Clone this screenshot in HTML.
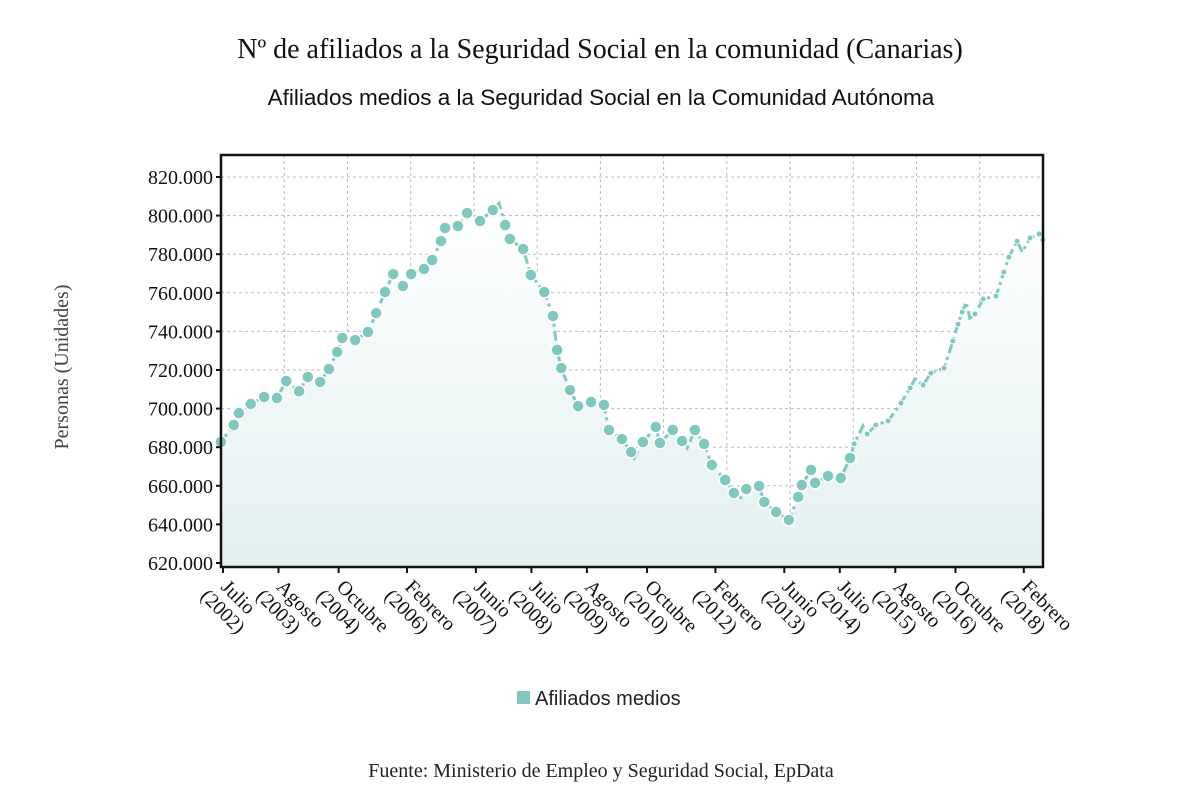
<!DOCTYPE html>
<html><head><meta charset="utf-8"><style>
html,body{margin:0;padding:0;background:#fff;width:1200px;height:808px;overflow:hidden}
svg{display:block}
</style></head><body>
<svg id="chart" width="1200" height="808" xmlns="http://www.w3.org/2000/svg">
<defs>
<linearGradient id="fillg" x1="0" y1="0" x2="0" y2="1">
<stop offset="0" stop-color="#ffffff" stop-opacity="1"/>
<stop offset="1" stop-color="#e3f0f0" stop-opacity="1"/>
</linearGradient>
</defs>
<text x="600" y="58" text-anchor="middle" font-family="Liberation Serif, serif" font-size="28" fill="#111">Nº de afiliados a la Seguridad Social en la comunidad (Canarias)</text>
<text x="601" y="105" text-anchor="middle" font-family="Liberation Sans, sans-serif" font-size="22.5" fill="#111">Afiliados medios a la Seguridad Social en la Comunidad Autónoma</text>
<g id="grid"></g>
<g id="series"></g>
<rect x="221" y="155" width="822" height="412" fill="none" stroke="#111" stroke-width="2.5"/>
<g id="yaxis"></g>
<g id="xaxis"></g>
<text transform="translate(68,367) rotate(-90)" text-anchor="middle" font-family="Liberation Serif, serif" font-size="20" fill="#444">Personas (Unidades)</text>
<g>
<rect x="517" y="691" width="13" height="13" fill="#7fc8bf"/>
<text x="535" y="705" font-family="Liberation Sans, sans-serif" font-size="20" fill="#222">Afiliados medios</text>
</g>
<text x="601" y="777" text-anchor="middle" font-family="Liberation Serif, serif" font-size="20" fill="#222">Fuente: Ministerio de Empleo y Seguridad Social, EpData</text>
</svg>
<script>
const dates = [2002.46,2002.71,2002.81,2003.04,2003.30,2003.55,2003.73,2003.98,2004.15,2004.39,2004.56,2004.72,2004.82,2005.07,2005.32,2005.48,2005.65,2005.81,2006.0,2006.16,2006.41,2006.57,2006.74,2006.82,2007.07,2007.25,2007.50,2007.75,2007.87,2007.99,2008.08,2008.34,2008.49,2008.75,2008.92,2009.0,2009.08,2009.25,2009.41,2009.66,2009.91,2010.01,2010.26,2010.44,2010.50,2010.67,2010.92,2011.0,2011.25,2011.43,2011.53,2011.68,2011.86,2012.01,2012.27,2012.44,2012.54,2012.68,2012.93,2013.03,2013.26,2013.51,2013.69,2013.76,2013.94,2014.02,2014.27,2014.52,2014.70,2014.78,2014.95,2015.03,2015.20,2015.44,2015.69,2015.87,2015.96,2016.12,2016.27,2016.53,2016.70,2016.80,2016.88,2016.96,2017.03,2017.13,2017.29,2017.54,2017.69,2017.79,2017.95,2018.05,2018.20,2018.38,2018.45];
const values = [682.7,691.5,697.7,702.4,706,705.5,714.3,709,716.4,713.8,720.5,729.3,736.6,735.5,739.7,749.5,760.4,769.7,763.5,769.7,772.3,777,786.8,793.6,794.6,801.3,797.2,802.9,806.5,795.1,787.9,782.7,769.2,760.4,748,730.4,721,709.6,701.3,703.4,701.9,688.9,684.2,677.5,674.4,682.7,690.5,682.2,688.9,683.2,679.6,688.9,681.7,670.8,663,656.3,652.6,658.3,659.9,651.6,646.4,642.3,654.2,660.4,668.2,661.5,665.1,664,674.4,681.7,691,686.8,691.5,693.6,702.9,710.7,715.3,712.2,718.4,721,735,743.8,750,755.2,746.9,749,756.8,758.3,770.8,778.5,786.8,781.1,788.4,790.5,787.4];
const noMarker = [28,44,50,56,70,76,83,84,91];
const tickDates = [2002.5,2003.58,2004.75,2006.08,2007.42,2008.5,2009.58,2010.75,2012.08,2013.42,2014.5,2015.58,2016.75,2018.08];
const tickMonths = ["Julio","Agosto","Octubre","Febrero","Junio","Julio","Agosto","Octubre","Febrero","Junio","Julio","Agosto","Octubre","Febrero"];
const tickYears = ["(2002)","(2003)","(2004)","(2006)","(2007)","(2008)","(2009)","(2010)","(2012)","(2013)","(2014)","(2015)","(2016)","(2018)"];
const yTicks = [620,640,660,680,700,720,740,760,780,800,820];

const NS = "http://www.w3.org/2000/svg";
const X0 = 221, X1 = 1043, Y0 = 155, Y1 = 567;
function xs(t){ return 223 + (t - 2002.5) * 51.4; }
function ys(v){ return 563 - (v - 620) * 1.93; }
function mk(tag, attrs, parent){ const e = document.createElementNS(NS, tag); for (const k in attrs) e.setAttribute(k, attrs[k]); parent.appendChild(e); return e; }

const grid = document.getElementById('grid');
for (let k = 1; k < 13; k++) {
  const gx = X0 + k * (X1 - X0) / 13;
  const l = mk('line', {x1: gx, x2: gx, y1: Y0, y2: Y1, stroke: '#bbb', 'stroke-width': 1, 'stroke-dasharray': '3,3'}, grid);
  
  
}
const yaxis = document.getElementById('yaxis');
yTicks.forEach(v => {
  const gy = ys(v);
  const l = mk('line', {x1: X0, x2: X1, y1: gy, y2: gy, stroke: '#bbb', 'stroke-width': 1, 'stroke-dasharray': '3,3'}, grid);
  
  
  const tk = mk('line', {x1: X0 - 5, x2: X0, y1: gy, y2: gy, stroke: '#111', 'stroke-width': 2}, yaxis);
  
  
  const t = mk('text', {x: 213, y: gy + 7, 'text-anchor': 'end', 'font-family': 'Liberation Serif, serif', 'font-size': 20, fill: '#111'}, yaxis);
  t.textContent = v.toFixed(0) + '.000';
  
  
});

const xaxis = document.getElementById('xaxis');
tickDates.forEach((d, i) => {
  const tx = xs(d);
  const tk = mk('line', {x1: tx, x2: tx, y1: Y1, y2: Y1 + 6, stroke: '#111', 'stroke-width': 2}, xaxis);
  
  
  const t = mk('text', {transform: 'translate(' + (tx - 3) + ',588) rotate(45)', 'font-family': 'Liberation Serif, serif', 'font-size': 20, fill: '#111'}, xaxis);
  
  
  const a = mk('tspan', {x: 0, dy: 0}, t); a.textContent = tickMonths[i];
  const b = mk('tspan', {x: -8, dy: 21}, t); b.textContent = tickYears[i];
});

const series = document.getElementById('series');
let pts = dates.map((d, i) => [xs(d), ys(values[i])]);
let area = 'M' + pts[0][0] + ',' + Y1 + ' ' + pts.map(p => 'L' + p[0].toFixed(1) + ',' + p[1].toFixed(1)).join(' ') + ' L' + pts[pts.length-1][0] + ',' + Y1 + ' Z';
const ar = mk('path', {d: area, fill: 'url(#fillg)'}, series);


const ln = mk('path', {d: 'M' + pts.map(p => p[0].toFixed(1) + ',' + p[1].toFixed(1)).join(' L'), fill: 'none', stroke: '#7fc8bf', 'stroke-width': 3, 'stroke-dasharray': '10,4,3,4'}, series);


pts.forEach((p, i) => {
  if (noMarker.indexOf(i) >= 0) return;
  const big = dates[i] < 2014.75;
  const c = mk('circle', {cx: p[0], cy: p[1], r: big ? 6 : 3, fill: '#7fc8bf', stroke: '#fff', 'stroke-width': big ? 1.5 : 1}, series);
  
  
});
</script>
</body></html>
